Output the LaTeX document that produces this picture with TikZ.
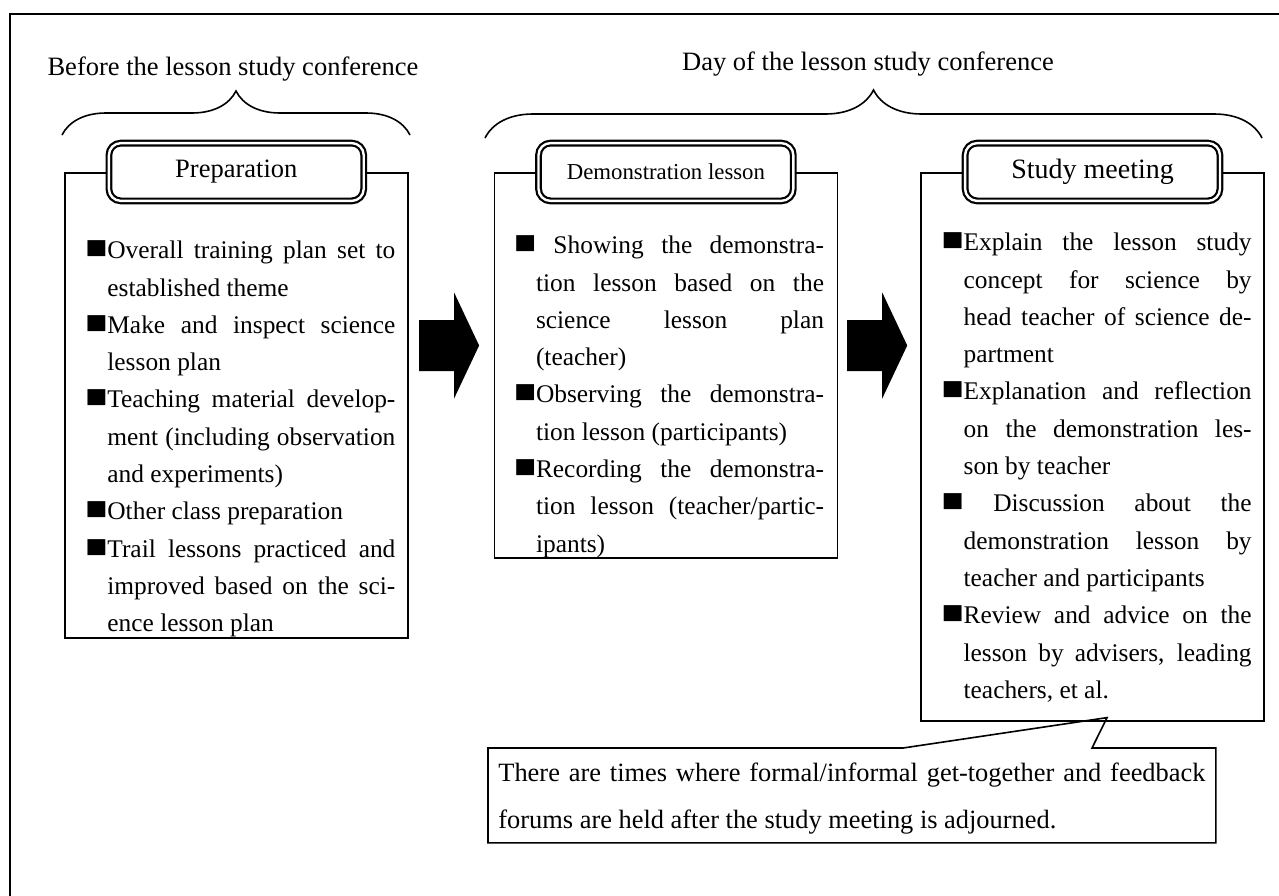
\documentclass[tikz,border=0pt]{standalone}
\usepackage{fontspec}
\setmainfont{Liberation Serif}
\usetikzlibrary{positioning, calc, decorations.pathreplacing}

\newcommand\itm{\par\hyphenpenalty=10000\relax\tolerance=9999\relax
  \hangindent=11bp\hangafter=1\noindent\strut\makebox[11bp][l]{\scalebox{1.45}[1.3]{■}}}

\begin{document}
\begin{tikzpicture}[
    x=0.5bp, y=-0.5bp,
    frame/.style={line width=1.2bp},
    stage/.style={rectangle, draw, line width=0.8bp, anchor=north west,
                  minimum width=171.5bp, inner sep=0pt},
    title/.style={rectangle, draw, double, double distance=1.2bp, line width=1.1bp,
                  rounded corners=6bp, fill=white, minimum width=127.4bp,
                  minimum height=28.9bp, inner sep=0pt,
                  font=\fontsize{#1}{16bp}\selectfont},
    title/.default=13.25bp,
    list/.style={anchor=north west, text width=155bp, align=justify, inner sep=0pt,
                 font=\fontsize{12.7bp}{18.65bp}\selectfont},
    phase/.style={anchor=base, inner sep=0pt, font=\fontsize{13.25bp}{16bp}\selectfont},
    brace/.style={decorate, decoration={brace, amplitude=#1}, line width=0.8bp},
    note/.style={anchor=north west, minimum width=363.5bp, minimum height=47bp,
                 text width=353.5bp, inner xsep=5bp, inner ysep=0pt, align=justify,
                 font=\fontsize{13.2bp}{23.5bp}\selectfont}
]
\useasboundingbox (0,0) rectangle (1279,895);
\draw[frame] (10,905) -- (10,14) -- (1290,14);

\node[stage, minimum height=232.5bp] (prep) at (64,172) {};
\node[stage, minimum height=192.5bp, right=42.5bp of prep.north east, anchor=north west] (demo) {};
\node[stage, minimum height=274bp, right=41bp of demo.north east, anchor=north west] (study) {};

\node[title] (prepTitle) at (prep.north) {Preparation};
\node[title=11.4bp] (demoTitle) at (demo.north) {Demonstration lesson};
\node[title=14bp] (studyTitle) at (study.north) {Study meeting};

\node[list] (prepList) at ([shift={(21,49)}]prep.north west) {%
\itm Overall training plan set to\linebreak established theme
\itm Make and inspect science\linebreak lesson plan
\itm Teaching material develop-\linebreak ment (including observation\linebreak and experiments)
\itm Other class preparation
\itm Trail lessons practiced and\linebreak improved based on the sci-\linebreak ence lesson plan\par};
\node[list] (demoList) at ([shift={(20,44)}]demo.north west) {%
\itm\ Showing the demonstra-\linebreak tion lesson based on the\linebreak science lesson plan\linebreak (teacher)
\itm Observing the demonstra-\linebreak tion lesson (participants)
\itm Recording the demonstra-\linebreak tion lesson (teacher/partic-\linebreak ipants)\par};
\node[list] (studyList) at ([shift={(21,41)}]study.north west) {%
\itm Explain the lesson study\linebreak concept for science by\linebreak head teacher of science de-\linebreak partment
\itm Explanation and reflection\linebreak on the demonstration les-\linebreak son by teacher
\itm\ Discussion about the\linebreak demonstration lesson by\linebreak teacher and participants
\itm Review and advice on the\linebreak lesson by advisers, leading\linebreak teachers, et al.\par};

\draw[brace=22bp] (62,135) -- (410,135);
\draw[brace=24bp] (485,138) -- (1262,138);
\node[phase] (beforeLbl) at (233,75) {Before the lesson study conference};
\node[phase] (dayLbl) at (868,70) {Day of the lesson study conference};

\foreach \a/\b/\n in {prep/demo/goA, demo/study/goB}{
  \coordinate (\n) at ($(\a.north east)!0.5!(\b.north west)+(-2,173.5)$);
  \fill[shift={(\n)}] (-30,-25.5) -- (5,-25.5) -- (5,-53) -- (30,0) -- (5,53) -- (5,25.5) -- (-30,25.5) -- cycle;
}

\node[note] (note) at (488,748) {\strut There are times where formal/informal get-together and feedback\linebreak forums are held after the study meeting is adjourned.\strut};
\coordinate (tip) at ([shift={(14.5,-4)}]study.south);
\draw[line width=0.8bp] (note.north west) -- ([xshift=207.5bp]note.north west) -- (tip)
  -- ([xshift=302bp]note.north west) -- (note.north east) -- (note.south east)
  -- (note.south west) -- cycle;
\end{tikzpicture}
\end{document}
